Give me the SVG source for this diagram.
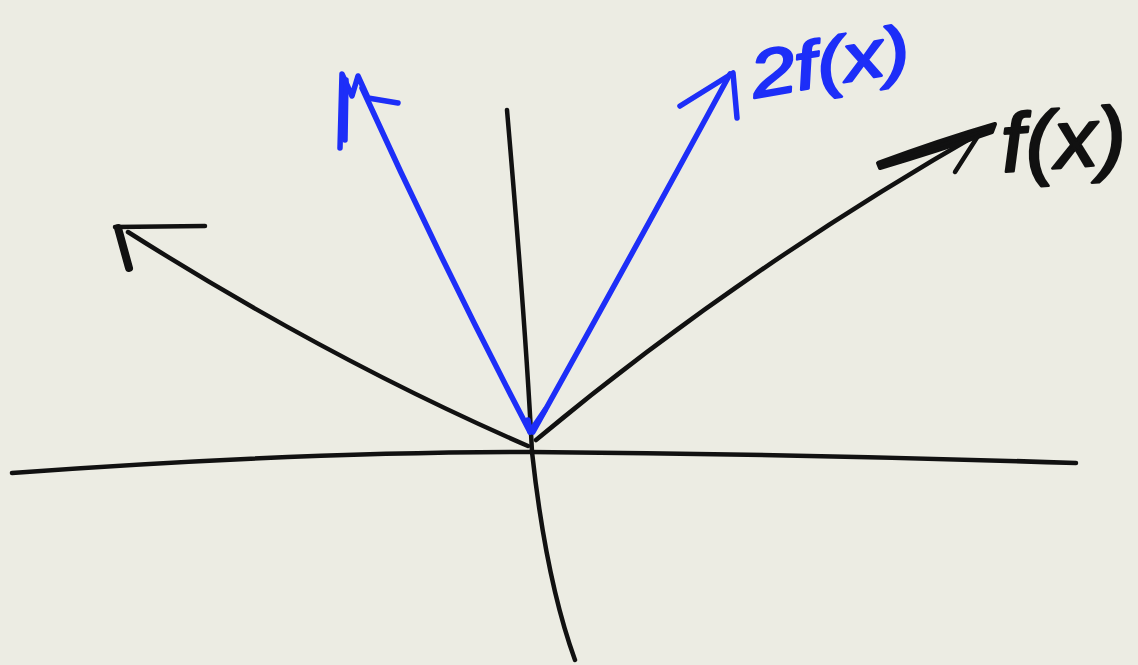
<svg xmlns="http://www.w3.org/2000/svg" width="1138" height="665" viewBox="0 0 1138 665">
<style>
.k{fill:none;stroke:#111;stroke-width:4.5;stroke-linecap:round;stroke-linejoin:round}
.b{fill:none;stroke:#1d2ef8;stroke-width:5.5;stroke-linecap:round;stroke-linejoin:round}
.t{font-family:"Liberation Sans",sans-serif;font-style:italic;stroke-width:2.5;stroke-linejoin:round}
</style>
<rect width="1138" height="665" fill="#ecece3"/>
<g id="axes" class="k">
<path d="M12,473 Q300,452 530,452 Q800,454 1076,463"/>
<path d="M507,110 Q526,330 532,452 Q546,580 575,660"/>
</g>
<g id="connectors">
<path class="k" d="M528,446 Q330,360 128,232"/>
<path class="k" d="M115,227 L205,226"/>
<path class="k" d="M118,228 L129,268" style="stroke-width:8"/>
<path class="k" d="M536,440 Q740,270 985,130"/>
<path d="M878,163 Q940,140 995,124 L992,132 Q940,150 880,168 Z" fill="#111" stroke="#111" stroke-width="4" stroke-linejoin="round"/>
<path class="k" d="M955,172 L978,136"/>
<path class="b" d="M530,432 Q440,260 362,88"/>
<path class="b" d="M340,148 L342,74 L352,96 L358,76 L368,98 L398,103"/>
<path class="b" d="M345,140 L346,80"/>
<path class="b" d="M533,432 Q640,240 730,74"/>
<path class="b" d="M680,106 L733,73 L737,118"/>
<path class="b" d="M528,420 L530,432 L545,410"/>
</g>
<g id="label-2fx">
<text class="t" x="755" y="98" font-size="66" fill="#1d2ef8" stroke="#1d2ef8" textLength="160" lengthAdjust="spacingAndGlyphs" transform="rotate(-10 755 98)">2f(x)</text>
</g>
<g id="label-fx">
<text class="t" x="1003" y="172" font-size="82" fill="#111" stroke="#111" textLength="125" lengthAdjust="spacingAndGlyphs" transform="rotate(-4 1003 172)">f(x)</text>
</g>
</svg>
